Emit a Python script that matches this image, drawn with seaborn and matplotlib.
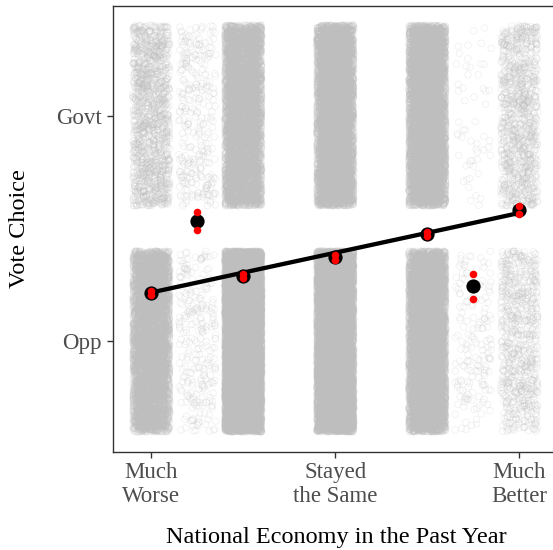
import numpy as np
import pandas as pd
import matplotlib
matplotlib.use("Agg")
import matplotlib.pyplot as plt
import seaborn as sns

# Economy rating groups (positions on the 1-5 scale, incl. the two half-step groups)
econ_pos = [1.0, 1.5, 2.0, 3.0, 4.0, 4.5, 5.0]
n_govt = [1500, 305, 5680, 6790, 6660, 56, 1100]
n_opp = [5480, 265, 13920, 11410, 7340, 172, 790]

# Share voting for the government in each group, with interval bounds
share_govt = [0.215, 0.5345, 0.290, 0.3726, 0.4757, 0.2456, 0.5819]
ci_low = [0.2055, 0.493, 0.2805, 0.3606, 0.4673, 0.1867, 0.5635]
ci_high = [0.2245, 0.574, 0.2995, 0.3846, 0.4841, 0.2987, 0.6003]

# Fitted linear trend over the five main categories
fit_x = [1.0, 5.0]
fit_y = [0.2168, 0.5686]

x_ticks = [1, 3, 5]
x_labels = ["Much\nWorse", "Stayed\nthe Same", "Much\nBetter"]
y_ticks = [0, 1]
y_labels = ["Opp", "Govt"]

# Individual respondents, jittered for display
rows = []
for pos, g, o in zip(econ_pos, n_govt, n_opp):
    rows.append(pd.DataFrame({"econ": pos, "vote": 1, "k": np.arange(g)}))
    rows.append(pd.DataFrame({"econ": pos, "vote": 0, "k": np.arange(o)}))
resp = pd.concat(rows, ignore_index=True)
rng = np.random.default_rng(11)
resp["econ_j"] = resp["econ"] + rng.uniform(-0.2, 0.2, len(resp))
resp["vote_j"] = resp["vote"] + rng.uniform(-0.4, 0.4, len(resp))

summary = pd.DataFrame({"econ": econ_pos, "share": share_govt,
                        "lo": ci_low, "hi": ci_high})
bounds = pd.DataFrame({"econ": econ_pos + econ_pos, "val": ci_low + ci_high})
trend = pd.DataFrame({"econ": fit_x, "share": fit_y})

sns.set_theme(style="white")
plt.rcParams["font.family"] = ["Liberation Serif", "DejaVu Serif"]

W, H = 553, 550
fig = plt.figure(figsize=(W / 100, H / 100), dpi=100)
xlim = (0.578, 5.45)
px_per_x = 92.0
left_px, bottom_px, top_px = 112.5, 451.7, 5.7
ax = fig.add_axes([left_px / W, (H - bottom_px) / H,
                   (xlim[1] - xlim[0]) * px_per_x / W,
                   (bottom_px - top_px) / H])

sns.scatterplot(data=resp, x="econ_j", y="vote_j", ax=ax, s=22,
                marker="o", linewidth=0.6, legend=False)
cloud = ax.collections[-1]
cloud.set_facecolor("none")
cloud.set_edgecolor((0.745, 0.745, 0.745, 0.21))
cloud.set_rasterized(True)

sns.lineplot(data=trend, x="econ", y="share", ax=ax, color="black",
             linewidth=3.1, solid_capstyle="butt")
sns.scatterplot(data=summary, x="econ", y="share", ax=ax, color="black",
                s=105, linewidth=0, legend=False, zorder=5)
sns.scatterplot(data=bounds, x="econ", y="val", ax=ax, color="#FF0000",
                s=30, linewidth=0, legend=False, zorder=6)

ax.set_xlim(*xlim)
ax.set_ylim(-0.488, 1.486)
ax.set_xticks(x_ticks)
ax.set_xticklabels(x_labels)
ax.set_yticks(y_ticks)
ax.set_yticklabels(y_labels)
ax.tick_params(axis="both", length=4.3, width=1.0, color="#333333",
               labelsize=16.5, labelcolor="#4D4D4D", pad=3.2)
ax.tick_params(axis="x", bottom=True)
ax.tick_params(axis="y", left=True)
for sp in ax.spines.values():
    sp.set_color("#333333")
    sp.set_linewidth(1.0)

ax.set_xlabel("National Economy in the Past Year", fontsize=17.5,
              color="black", labelpad=14)
ax.set_ylabel("Vote Choice", fontsize=17.5, color="black", labelpad=19)

fig.savefig("out.png", dpi=100)
